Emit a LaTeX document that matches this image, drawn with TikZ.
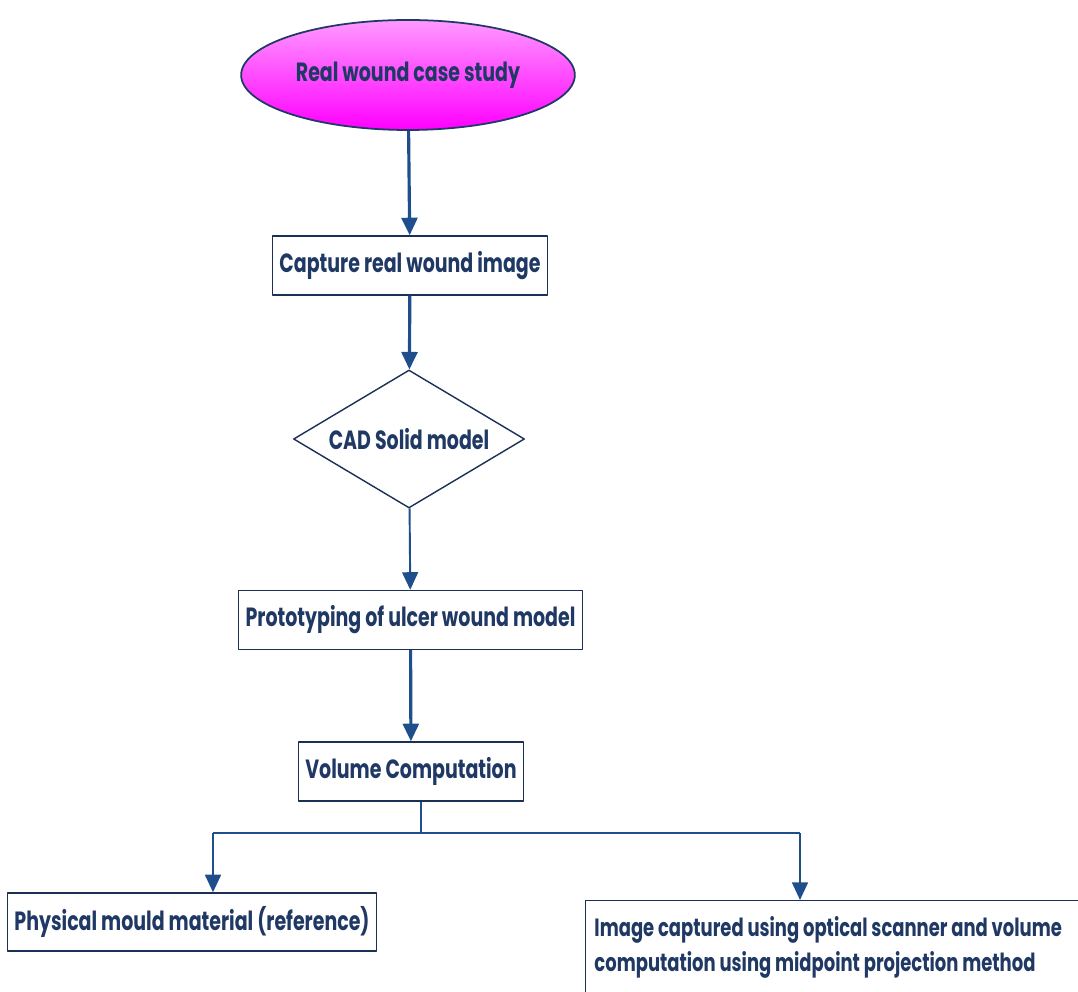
\documentclass[tikz,border=0pt]{standalone}
\usepackage{fontspec}
\setmainfont{Poppins}[FakeStretch=0.72]
\usetikzlibrary{shapes.geometric,arrows.meta}
\definecolor{navy}{HTML}{1F3864}
\definecolor{linkblue}{HTML}{1F4E8C}
\begin{document}
\begin{tikzpicture}[
	x=1cm,
	y=1cm,
	line join=round,
	>={Triangle[length=10pt,width=9pt]},
	every node/.style={text=navy, font=\bfseries\fontsize{15}{19}\selectfont},
	box/.style={draw=navy!85!black, line width=0.8pt, fill=white, minimum height=1.18cm, inner sep=4pt},
	link/.style={->, draw=linkblue, line width=1.8pt},
	thinlink/.style={->, draw=linkblue, line width=1.1pt},
	]
\useasboundingbox (0,0) rectangle (21.56,19.82);
\clip (0,0) rectangle (21.56,19.82);
\node[ellipse, draw=navy, line width=1pt, top color=magenta!40, bottom color=magenta,
	minimum width=5.68cm, minimum height=2.2cm] (case) at (8.16,18.32) {Real wound case study};
\node[box, minimum width=5.4cm] (capture) at (8.2,14.51) {Capture real wound image};
\node[diamond, draw=navy!85!black, line width=0.8pt, inner sep=0pt, aspect=1.67,
	minimum width=4.62cm, minimum height=2.76cm] (cad) at (8.18,11.04) {CAD Solid model};
\node[box, minimum width=6.66cm] (proto) at (8.21,7.42) {Prototyping of ulcer wound model};
\node[box, minimum width=4.36cm] (volume) at (8.22,4.39) {Volume Computation};
\node[box, minimum width=7.28cm, minimum height=1.16cm] (mould) at (3.84,1.38) {Physical mould material (reference)};
\node[box, anchor=north west, text width=9.9cm, align=flush left, inner xsep=5pt, inner ysep=9pt,
	font=\bfseries\fontsize{14.2}{20}\selectfont] (scan) at (11.7,1.82)
	{Image captured using optical scanner and volume\\computation using midpoint projection method};
\coordinate (split) at (8.42,3.16);
\coordinate (left) at (4.26,3.16);
\coordinate (right) at (16.0,3.16);
\draw[link] (case) -- (capture);
\draw[link] (capture) -- (cad);
\draw[thinlink] (cad) -- (proto);
\draw[link] (proto) -- (volume);
\draw[linkblue, line width=1.3pt] (volume.south -| split) -- (split);
\draw[linkblue, line width=1.3pt] (left) -- (right);
\draw[thinlink, line width=1.3pt] (left) -- (mould.north -| left);
\draw[thinlink, line width=1.3pt] (right) -- (scan.north -| right);
\end{tikzpicture}
\end{document}
